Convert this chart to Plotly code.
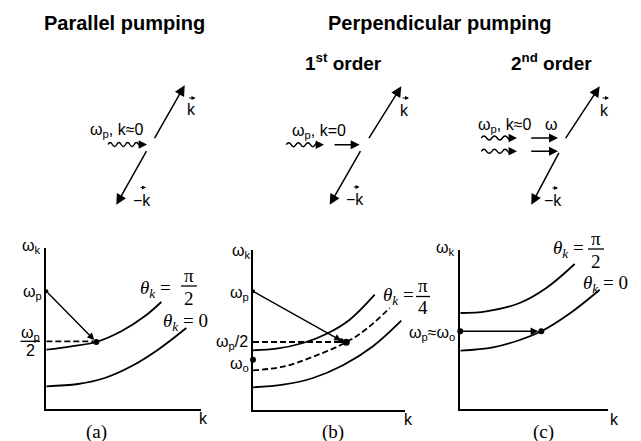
import plotly.graph_objects as go

# ---------------- data (arbitrary units) ----------------
# panel (a) parallel pumping
A_K_PERP = [0, 0.25, 0.50, 0.75, 0.984, 1.15]
A_W_PERP = [0.59, 0.624, 0.667, 0.774, 0.924, 1.067]      # theta_k = pi/2
A_K_PAR = [0, 0.317, 0.584, 0.85, 1.117, 1.40]
A_W_PAR = [0.224, 0.247, 0.307, 0.424, 0.59, 0.807]        # theta_k = 0
A_WP = 1.174
A_PAIR = (0.50, 0.667)
A_HALF = 0.674

# panel (b) perpendicular pumping, 1st order
B_K_PERP = [0, 0.233, 0.50, 0.733, 0.967, 1.217]
B_W_PERP = [0.594, 0.61, 0.667, 0.757, 0.90, 1.15]
B_K_MID = [0, 0.30, 0.60, 0.933, 1.15, 1.367]
B_W_MID = [0.394, 0.43, 0.53, 0.675, 0.82, 1.017]          # theta_k = pi/4 (dashed)
B_K_PAR = [0, 0.30, 0.60, 0.90, 1.20, 1.483]
B_W_PAR = [0.224, 0.25, 0.317, 0.444, 0.634, 0.89]
B_WP = 1.184
B_PUMP_END = (0.883, 0.69)
B_PAIR = (0.933, 0.675)
B_HALF = 0.677
B_W0 = 0.50

# panel (c) perpendicular pumping, 2nd order
C_K_PERP = [0, 0.26, 0.594, 0.86, 1.144]
C_W_PERP = [0.96, 0.977, 1.06, 1.21, 1.45]
C_K_PAR = [0, 0.327, 0.594, 0.81, 1.094, 1.394]
C_W_PAR = [0.583, 0.617, 0.690, 0.777, 0.955, 1.193]
C_WP = 0.777
C_PAIR_K = 0.81

# ---------------- layout geometry ----------------
W, H = 641, 441
UNIT = 100.0
PANELS = [
    dict(x0=38.3, x1=193.3, yt=240.0, yb=400.7),
    dict(x0=245.0, x1=397.0, yt=241.7, yb=401.7),
    dict(x0=452.3, x1=600.0, yt=241.7, yb=401.0),
]
SANS = "Liberation Sans, Arial, sans-serif"
SERIF = "Liberation Serif, Times New Roman, serif"
LW = 1.8

fig = go.Figure()
layout = dict(width=W, height=H, autosize=False, margin=dict(l=0, r=0, t=0, b=0),
              paper_bgcolor="white", plot_bgcolor="rgba(0,0,0,0)", showlegend=False)

for i, p in enumerate(PANELS):
    n = "" if i == 0 else str(i + 1)
    layout["xaxis" + n] = dict(domain=[p["x0"] / W, p["x1"] / W], range=[0, (p["x1"] - p["x0"]) / UNIT],
                               anchor="y" + n, showline=True, linecolor="black", linewidth=LW,
                               showticklabels=False, showgrid=False, zeroline=False, ticks="", fixedrange=True)
    layout["yaxis" + n] = dict(domain=[1 - p["yb"] / H, 1 - p["yt"] / H], range=[0, (p["yb"] - p["yt"]) / UNIT],
                               anchor="x" + n, showline=True, linecolor="black", linewidth=LW,
                               showticklabels=False, showgrid=False, zeroline=False, ticks="", fixedrange=True)
# overlay axis in pixel units for the sketch and labels
layout["xaxis4"] = dict(domain=[0, 1], range=[0, W], anchor="y4", visible=False, fixedrange=True)
layout["yaxis4"] = dict(domain=[0, 1], range=[H, 0], anchor="x4", visible=False, fixedrange=True)

annotations = []
shapes = []


def curve(k, w, ax, dash=None):
    fig.add_trace(go.Scatter(x=k, y=w, mode="lines", xaxis="x" + ax, yaxis="y" + ax,
                             line=dict(color="black", width=LW, shape="spline", dash=dash),
                             cliponaxis=False, hoverinfo="skip"))


def dots(k, w, ax, size=6):
    fig.add_trace(go.Scatter(x=k, y=w, mode="markers", xaxis="x" + ax, yaxis="y" + ax,
                             marker=dict(color="black", size=size), cliponaxis=False, hoverinfo="skip"))


def arrow(xt, yt, xh, yh, ax="4", size=1.3, width=1.5):
    annotations.append(dict(x=xh, y=yh, ax=xt, ay=yt, xref="x" + ax, yref="y" + ax,
                            axref="x" + ax, ayref="y" + ax, showarrow=True, arrowhead=2,
                            arrowsize=size, arrowwidth=width, arrowcolor="black", standoff=0, text=""))


def text(x, y, s, size=16, family=SANS, xanchor="center"):
    annotations.append(dict(x=x, y=y, xref="x4", yref="y4", text=s, showarrow=False,
                            font=dict(family=family, size=size, color="black"),
                            xanchor=xanchor, yanchor="middle"))


def hline(x0, x1, y, width=1.2):
    shapes.append(dict(type="line", xref="x4", yref="y4", x0=x0, x1=x1, y0=y, y1=y,
                       line=dict(color="black", width=width)))


def wave(x0, x1, y, halves, amp=4.0):
    h = (x1 - x0) / halves
    path = f"M {x0},{y} Q {x0 + h / 2},{y - amp} {x0 + h},{y}"
    for j in range(2, halves + 1):
        path += f" T {x0 + j * h},{y}"
    shapes.append(dict(type="path", xref="x4", yref="y4", path=path,
                       line=dict(color="black", width=1.4)))
    arrow(x1 - 2, y, x1 + 4, y, size=1.2, width=1.4)


def vec_label(x, y, s, arrow_x0, arrow_x1, arrow_y):
    text(x, y, s, size=16)
    arrow(arrow_x0, arrow_y, arrow_x1, arrow_y, size=0.8, width=1.0)


# ---------------- panel (a) ----------------
curve(A_K_PERP, A_W_PERP, "")
curve(A_K_PAR, A_W_PAR, "")
curve([0, A_PAIR[0] - 0.03], [A_HALF, A_HALF], "", dash="6px,3px")
arrow(0, A_WP, A_PAIR[0] - 0.02, A_PAIR[1] + 0.02, ax="", size=1.0, width=1.4)
dots([0], [A_WP], "", size=4)
dots([A_PAIR[0]], [A_PAIR[1]], "", size=6)

# ---------------- panel (b) ----------------
curve(B_K_PERP, B_W_PERP, "2")
curve(B_K_MID, B_W_MID, "2", dash="6px,3px")
curve(B_K_PAR, B_W_PAR, "2")
curve([0, B_PAIR[0] - 0.03], [B_HALF, B_HALF], "2", dash="6px,3px")
arrow(0, B_WP, B_PUMP_END[0], B_PUMP_END[1], ax="2", size=1.0, width=1.4)
dots([0], [B_WP], "2", size=4)
dots([B_PUMP_END[0]], [B_PUMP_END[1]], "2", size=5)
dots([B_PAIR[0]], [B_PAIR[1]], "2", size=7)
dots([0], [B_W0], "2", size=6)

# ---------------- panel (c) ----------------
curve(C_K_PERP, C_W_PERP, "3")
curve(C_K_PAR, C_W_PAR, "3")
arrow(0, C_WP, C_PAIR_K - 0.03, C_WP, ax="3", size=1.1, width=1.4)
dots([0], [C_WP], "3", size=6)
dots([C_PAIR_K], [C_WP], "3", size=6)

# ---------------- top sketches ----------------
# (a)
arrow(145.7, 131.7, 176.7, 77.3, size=1.4)
arrow(139.3, 141.7, 108.3, 196.7, size=1.4)
wave(100, 135, 136.5, 8)
text(108, 122, "ω<sub>p</sub>, k≈0")
vec_label(183.3, 101, "k", 179.5, 187.5, 90)
vec_label(133.5, 192, "−k", 131, 138, 179.5)
# (b)
arrow(360, 131.7, 393.3, 78.3, size=1.4)
arrow(353.3, 141.7, 321.7, 196.7, size=1.4)
wave(278.3, 312, 136.7, 7)
arrow(325, 136.7, 351.7, 136.7, size=1.2)
text(311, 123, "ω<sub>p</sub>, k=0")
vec_label(396.7, 102, "k", 393, 401, 90)
vec_label(346.7, 191, "−k", 344.5, 351.5, 179)
# (c)
arrow(556.7, 131.7, 591.7, 78.3, size=1.4)
arrow(551.7, 143.3, 523.3, 196.7, size=1.4)
wave(473.3, 505, 130, 6)
wave(473.3, 505, 143.3, 6)
arrow(521.7, 130, 550, 130, size=1.2)
arrow(521.7, 143.3, 550, 143.3, size=1.2)
text(496, 117, "ω<sub>p</sub>, k≈0")
text(543.3, 116, "ω")
vec_label(596.7, 102, "k", 593, 601, 90)
vec_label(545, 192, "−k", 543, 550, 180)

# ---------------- titles ----------------
text(116.7, 15, "<b>Parallel pumping</b>", size=20)
text(431.5, 15, "<b>Perpendicular pumping</b>", size=20)
text(335, 54, "<b>1<sup>st</sup> order</b>", size=19)
text(543, 54, "<b>2<sup>nd</sup> order</b>", size=19)

# ---------------- panel labels ----------------
text(23, 238, "ω<sub>k</sub>")
text(233, 243, "ω<sub>k</sub>")
text(437, 240, "ω<sub>k</sub>")
text(24, 284, "ω<sub>p</sub>")
text(231, 285, "ω<sub>p</sub>")
text(22, 325, "ω<sub>p</sub>")
hline(12.5, 32, 333.3, width=1.3)
text(22, 342, "2")
text(224, 334, "ω<sub>p</sub>/2")
text(231, 356, "ω<sub>o</sub>")
text(449, 325, "ω<sub>p</sub>≈ω<sub>o</sub>", xanchor="right")
text(195, 410, "k")
text(400.7, 411.7, "k")
text(606.7, 411.7, "k")
text(88.3, 423.5, "(a)", size=19, family=SERIF)
text(325, 423.5, "(b)", size=19, family=SERIF)
text(535, 423.5, "(c)", size=19, family=SERIF)

TH = "<i>θ</i><sub><i>k</i></sub> ="
# (a) theta labels
text(147, 281, TH, size=19, family=SERIF)
text(181, 267, "π", size=19, family=SERIF)
hline(173, 189, 278, width=1.3)
text(181, 290, "2", size=19, family=SERIF)
text(177, 314, TH + " 0", size=19, family=SERIF)
# (b)
text(390, 288, TH, size=19, family=SERIF)
text(415, 277, "π", size=19, family=SERIF)
hline(408, 422, 288.5, width=1.3)
text(415, 299, "4", size=19, family=SERIF)
# (c)
text(560, 241, TH, size=19, family=SERIF)
text(588, 230, "π", size=19, family=SERIF)
hline(580, 596, 241, width=1.3)
text(588, 253, "2", size=19, family=SERIF)
text(597, 276, TH + " 0", size=19, family=SERIF)

layout["annotations"] = annotations
layout["shapes"] = shapes
fig.update_layout(**layout)
fig.write_html("out.html")
